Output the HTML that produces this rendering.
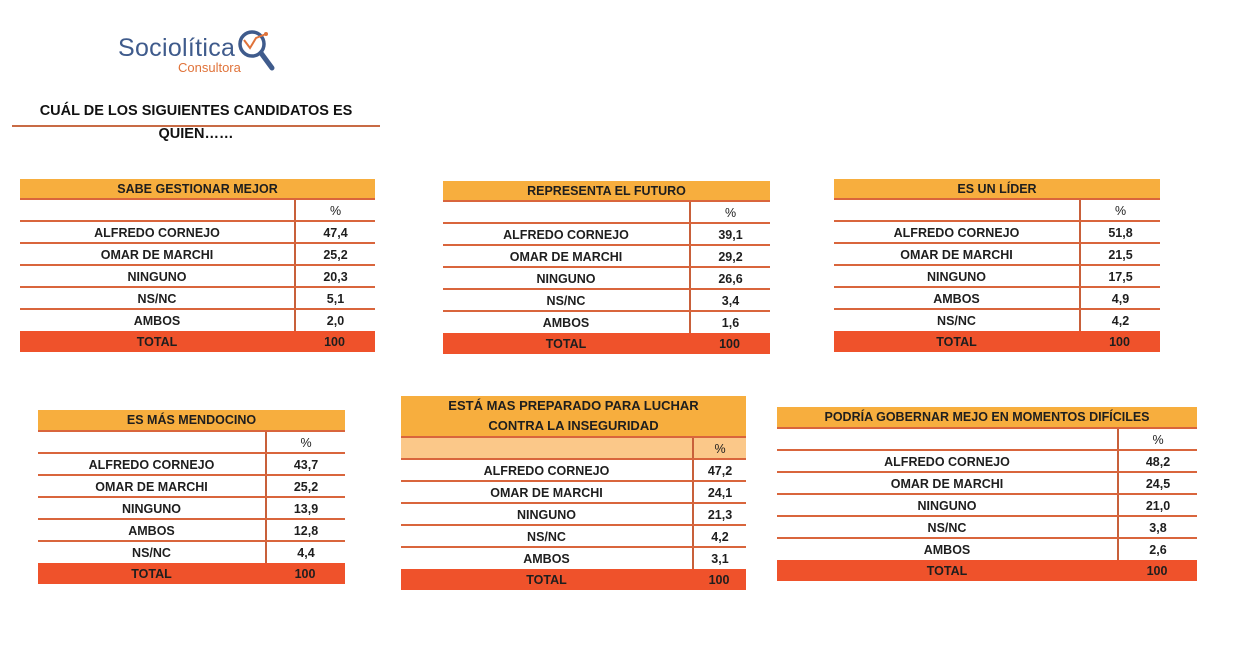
<!DOCTYPE html>
<html><head><meta charset="utf-8"><style>
body{margin:0;width:1256px;height:652px;background:#fff;position:relative;overflow:hidden;font-family:"Liberation Sans",sans-serif;}
.t{position:absolute;font-weight:bold;font-size:12.5px;color:#1e1e1e;}
.h{background:#f7ae3e;border-bottom:2px solid #d9653c;box-sizing:border-box;display:flex;align-items:center;justify-content:center;text-align:center;line-height:20px;}
.r{display:flex;box-sizing:border-box;border-bottom:2px solid #d9653c;}
.r div{display:flex;align-items:center;justify-content:center;padding-top:1px;}
.r .v{border-left:2px solid #c8603a;box-sizing:border-box;}
.tot{background:#ef522b;border:none;}
.tot .v{border-left:none;}
.pc{font-weight:normal;}
</style></head><body>

<div style="position:absolute;left:118px;top:34px;font-size:25px;color:#3f5b8c;letter-spacing:0.3px;">Sociolítica</div>
<div style="position:absolute;left:178px;top:60px;font-size:13px;color:#e0733a;">Consultora</div>
<svg style="position:absolute;left:236px;top:26px" width="46" height="50">
<circle cx="16" cy="18" r="12" fill="none" stroke="#3f5b8c" stroke-width="3.5"/>
<line x1="25" y1="27" x2="36" y2="42" stroke="#3f5b8c" stroke-width="5" stroke-linecap="round"/>
<polyline points="8,14 14,22 20,12 30,8" fill="none" stroke="#e0733a" stroke-width="2"/>
<circle cx="30" cy="8" r="2" fill="#e0733a"/>
</svg>

<div style="position:absolute;left:12px;top:100px;width:368px;text-align:center;font-size:14.5px;font-weight:bold;color:#111;line-height:23px;">CUÁL DE LOS SIGUIENTES CANDIDATOS ES<br>QUIEN……</div>
<div style="position:absolute;left:12px;top:125px;width:368px;height:2px;background:#c86b45;"></div>

<!-- T1 -->
<div class="t" style="left:20px;top:179px;width:355px;">
<div class="h" style="height:21px;">SABE GESTIONAR MEJOR</div>
<div class="r" style="height:22px"><div style="width:274px"></div><div class="v pc" style="width:81px">%</div></div>
<div class="r" style="height:22px"><div style="width:274px">ALFREDO CORNEJO</div><div class="v" style="width:81px">47,4</div></div>
<div class="r" style="height:22px"><div style="width:274px">OMAR DE MARCHI</div><div class="v" style="width:81px">25,2</div></div>
<div class="r" style="height:22px"><div style="width:274px">NINGUNO</div><div class="v" style="width:81px">20,3</div></div>
<div class="r" style="height:22px"><div style="width:274px">NS/NC</div><div class="v" style="width:81px">5,1</div></div>
<div class="r" style="height:21px;border-bottom:none"><div style="width:274px">AMBOS</div><div class="v" style="width:81px">2,0</div></div>
<div class="r tot" style="height:21px"><div style="width:274px">TOTAL</div><div class="v" style="width:81px">100</div></div>
</div>

<!-- T2 -->
<div class="t" style="left:443px;top:181px;width:327px;">
<div class="h" style="height:21px;">REPRESENTA EL FUTURO</div>
<div class="r" style="height:22px"><div style="width:246px"></div><div class="v pc" style="width:81px">%</div></div>
<div class="r" style="height:22px"><div style="width:246px">ALFREDO CORNEJO</div><div class="v" style="width:81px">39,1</div></div>
<div class="r" style="height:22px"><div style="width:246px">OMAR DE MARCHI</div><div class="v" style="width:81px">29,2</div></div>
<div class="r" style="height:22px"><div style="width:246px">NINGUNO</div><div class="v" style="width:81px">26,6</div></div>
<div class="r" style="height:22px"><div style="width:246px">NS/NC</div><div class="v" style="width:81px">3,4</div></div>
<div class="r" style="height:21px;border-bottom:none"><div style="width:246px">AMBOS</div><div class="v" style="width:81px">1,6</div></div>
<div class="r tot" style="height:21px"><div style="width:246px">TOTAL</div><div class="v" style="width:81px">100</div></div>
</div>

<!-- T3 -->
<div class="t" style="left:834px;top:179px;width:326px;">
<div class="h" style="height:21px;">ES UN LÍDER</div>
<div class="r" style="height:22px"><div style="width:245px"></div><div class="v pc" style="width:81px">%</div></div>
<div class="r" style="height:22px"><div style="width:245px">ALFREDO CORNEJO</div><div class="v" style="width:81px">51,8</div></div>
<div class="r" style="height:22px"><div style="width:245px">OMAR DE MARCHI</div><div class="v" style="width:81px">21,5</div></div>
<div class="r" style="height:22px"><div style="width:245px">NINGUNO</div><div class="v" style="width:81px">17,5</div></div>
<div class="r" style="height:22px"><div style="width:245px">AMBOS</div><div class="v" style="width:81px">4,9</div></div>
<div class="r" style="height:21px;border-bottom:none"><div style="width:245px">NS/NC</div><div class="v" style="width:81px">4,2</div></div>
<div class="r tot" style="height:21px"><div style="width:245px">TOTAL</div><div class="v" style="width:81px">100</div></div>
</div>

<!-- T4 -->
<div class="t" style="left:38px;top:410px;width:307px;">
<div class="h" style="height:22px;">ES MÁS MENDOCINO</div>
<div class="r" style="height:22px"><div style="width:227px"></div><div class="v pc" style="width:80px">%</div></div>
<div class="r" style="height:22px"><div style="width:227px">ALFREDO CORNEJO</div><div class="v" style="width:80px">43,7</div></div>
<div class="r" style="height:22px"><div style="width:227px">OMAR DE MARCHI</div><div class="v" style="width:80px">25,2</div></div>
<div class="r" style="height:22px"><div style="width:227px">NINGUNO</div><div class="v" style="width:80px">13,9</div></div>
<div class="r" style="height:22px"><div style="width:227px">AMBOS</div><div class="v" style="width:80px">12,8</div></div>
<div class="r" style="height:21px;border-bottom:none"><div style="width:227px">NS/NC</div><div class="v" style="width:80px">4,4</div></div>
<div class="r tot" style="height:21px"><div style="width:227px">TOTAL</div><div class="v" style="width:80px">100</div></div>
</div>

<!-- T5 -->
<div class="t" style="left:401px;top:396px;width:345px;">
<div class="h" style="height:42px;font-size:13px;">ESTÁ MAS PREPARADO PARA LUCHAR<br>CONTRA LA INSEGURIDAD</div>
<div class="r" style="height:22px;background:#fbc889"><div style="width:291px"></div><div class="v pc" style="width:54px">%</div></div>
<div class="r" style="height:22px"><div style="width:291px">ALFREDO CORNEJO</div><div class="v" style="width:54px">47,2</div></div>
<div class="r" style="height:22px"><div style="width:291px">OMAR DE MARCHI</div><div class="v" style="width:54px">24,1</div></div>
<div class="r" style="height:22px"><div style="width:291px">NINGUNO</div><div class="v" style="width:54px">21,3</div></div>
<div class="r" style="height:22px"><div style="width:291px">NS/NC</div><div class="v" style="width:54px">4,2</div></div>
<div class="r" style="height:21px;border-bottom:none"><div style="width:291px">AMBOS</div><div class="v" style="width:54px">3,1</div></div>
<div class="r tot" style="height:21px"><div style="width:291px">TOTAL</div><div class="v" style="width:54px">100</div></div>
</div>

<!-- T6 -->
<div class="t" style="left:777px;top:407px;width:420px;">
<div class="h" style="height:22px;">PODRÍA GOBERNAR MEJO EN MOMENTOS DIFÍCILES</div>
<div class="r" style="height:22px"><div style="width:340px"></div><div class="v pc" style="width:80px">%</div></div>
<div class="r" style="height:22px"><div style="width:340px">ALFREDO CORNEJO</div><div class="v" style="width:80px">48,2</div></div>
<div class="r" style="height:22px"><div style="width:340px">OMAR DE MARCHI</div><div class="v" style="width:80px">24,5</div></div>
<div class="r" style="height:22px"><div style="width:340px">NINGUNO</div><div class="v" style="width:80px">21,0</div></div>
<div class="r" style="height:22px"><div style="width:340px">NS/NC</div><div class="v" style="width:80px">3,8</div></div>
<div class="r" style="height:21px;border-bottom:none"><div style="width:340px">AMBOS</div><div class="v" style="width:80px">2,6</div></div>
<div class="r tot" style="height:21px"><div style="width:340px">TOTAL</div><div class="v" style="width:80px">100</div></div>
</div>

</body></html>
